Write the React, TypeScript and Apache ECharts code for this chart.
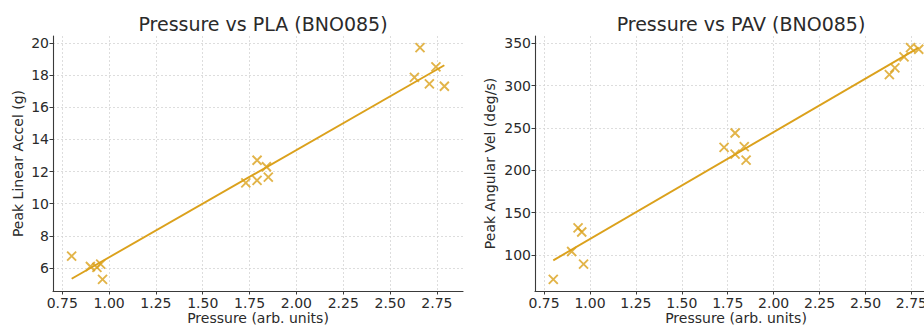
import React, { useEffect, useRef } from "react";
import * as echarts from "echarts";

// Data
const pressure = [0.8, 0.9, 0.935, 0.955, 0.965, 1.73, 1.79, 1.79, 1.84, 1.85, 2.63, 2.66, 2.71, 2.745, 2.79];
const pla = [6.75, 6.1, 6.05, 6.25, 5.3, 11.3, 12.7, 11.45, 12.3, 11.65, 17.85, 19.7, 17.45, 18.5, 17.3];
const pav = [71, 104, 132, 127, 89, 227, 244, 219, 228, 212, 313, 321, 334, 345, 343];

const xTicks = [0.75, 1.0, 1.25, 1.5, 1.75, 2.0, 2.25, 2.5, 2.75];
const plaTicks = [6, 8, 10, 12, 14, 16, 18, 20];
const pavTicks = [100, 150, 200, 250, 300, 350];

const titles = ["Pressure vs PLA (BNO085)", "Pressure vs PAV (BNO085)"];
const xName = "Pressure (arb. units)";
const yNames = ["Peak Linear Accel (g)", "Peak Angular Vel (deg/s)"];

const GOLD = "#DBA11C";
const TEXT = "#2a2a2a";
const FONT = "DejaVu Sans";

function range(arr: number[]) {
  const mn = Math.min(...arr);
  const mx = Math.max(...arr);
  const pad = (mx - mn) * 0.05;
  return [mn - pad, mx + pad];
}

function fit(xs: number[], ys: number[]) {
  const n = xs.length;
  const mx = xs.reduce((a, b) => a + b, 0) / n;
  const my = ys.reduce((a, b) => a + b, 0) / n;
  let sxy = 0, sxx = 0;
  for (let i = 0; i < n; i++) {
    sxy += (xs[i] - mx) * (ys[i] - my);
    sxx += (xs[i] - mx) * (xs[i] - mx);
  }
  const m = sxy / sxx;
  const b = my - m * mx;
  const x0 = Math.min(...xs), x1 = Math.max(...xs);
  return [[x0, m * x0 + b], [x1, m * x1 + b]];
}

const splitLine = { show: true, lineStyle: { color: "#d4d4d4", type: [2, 2], width: 0.8 } };
const axisLineStyle = { show: true, onZero: false, lineStyle: { color: "#3a3a3a", width: 1.1 } };

function xAxis(gridIndex: number) {
  const [mn, mx] = range(pressure);
  return {
    type: "value",
    gridIndex,
    min: mn,
    max: mx,
    name: xName,
    nameLocation: "middle",
    nameGap: 20,
    nameMoveOverlap: false,
    nameTextStyle: { fontSize: 14, lineHeight: 14, color: TEXT, fontFamily: FONT },
    axisLine: axisLineStyle,
    axisTick: { show: true, length: 3.5, customValues: xTicks, lineStyle: { color: "#3a3a3a" } },
    axisLabel: {
      customValues: xTicks,
      formatter: (v: number) => v.toFixed(2),
      fontSize: 14,
      lineHeight: 14,
      color: TEXT,
      fontFamily: FONT,
      margin: 5,
    },
    splitLine,
  };
}

function yAxis(gridIndex: number, data: number[], ticks: number[], name: string, gap: number) {
  const [mn, mx] = range(data);
  return {
    type: "value",
    gridIndex,
    min: mn,
    max: mx,
    name,
    nameLocation: "middle",
    nameGap: gap,
    nameRotate: 90,
    nameMoveOverlap: false,
    nameTextStyle: { fontSize: 14, color: TEXT, fontFamily: FONT },
    axisLine: axisLineStyle,
    axisTick: { show: true, length: 3.5, customValues: ticks, lineStyle: { color: "#3a3a3a" } },
    axisLabel: {
      customValues: ticks,
      formatter: (v: number) => String(Math.round(v)),
      fontSize: 14,
      color: TEXT,
      fontFamily: FONT,
      margin: 4,
    },
    splitLine,
  };
}

const xMark = "path://M0,0L10,10M10,0L0,10";

function scatter(idx: number, ys: number[]) {
  return {
    type: "scatter",
    xAxisIndex: idx,
    yAxisIndex: idx,
    symbol: xMark,
    symbolSize: 9,
    itemStyle: { color: "none", borderColor: GOLD, borderWidth: 1.9 },
    data: pressure.map((x, i) => [x, ys[i]]),
    z: 3,
  };
}

function fitLine(idx: number, ys: number[]) {
  return {
    type: "line",
    xAxisIndex: idx,
    yAxisIndex: idx,
    showSymbol: false,
    lineStyle: { color: GOLD, width: 1.9 },
    data: fit(pressure, ys),
    z: 2,
  };
}

export default function App() {
  const ref = useRef<HTMLDivElement>(null);
  useEffect(() => {
    if (!ref.current) return;
    const chart = echarts.init(ref.current, undefined, { renderer: "svg" });
    chart.setOption({
      animation: false,
      backgroundColor: "#fff",
      textStyle: { fontFamily: FONT },
      title: [
        {
          text: titles[0],
          left: 258,
          top: 9,
          textAlign: "center",
          textStyle: { fontSize: 19, fontWeight: "normal", color: TEXT, fontFamily: FONT },
        },
        {
          text: titles[1],
          left: 736,
          top: 9,
          textAlign: "center",
          textStyle: { fontSize: 19, fontWeight: "normal", color: TEXT, fontFamily: FONT },
        },
      ],
      grid: [
        { left: 53, top: 36, width: 410, height: 255, containLabel: false, outerBoundsMode: "none" },
        { left: 535, top: 36, width: 402, height: 255, containLabel: false, outerBoundsMode: "none" },
      ],
      xAxis: [xAxis(0), xAxis(1)],
      yAxis: [
        yAxis(0, pla, plaTicks, yNames[0], 28),
        yAxis(1, pav, pavTicks, yNames[1], 38),
      ],
      series: [scatter(0, pla), fitLine(0, pla), scatter(1, pav), fitLine(1, pav)],
    });
    return () => chart.dispose();
  }, []);
  return (
    <div
      ref={ref}
      style={{ position: "fixed", left: 0, top: 0, width: 924, height: 327 }}
    />
  );
}
